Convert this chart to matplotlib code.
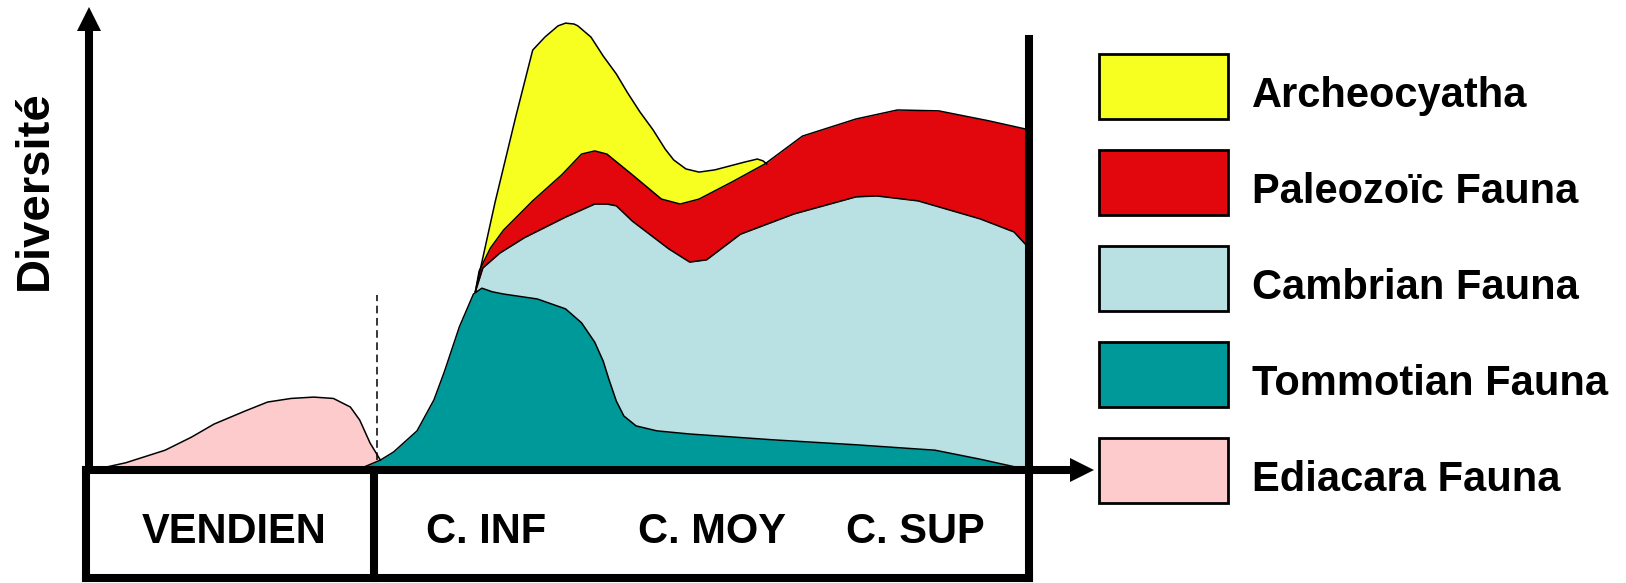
import matplotlib
matplotlib.use("Agg")
import matplotlib.pyplot as plt
from matplotlib.patches import Rectangle

plt.rcParams['font.family'] = ['Liberation Sans', 'DejaVu Sans']

# x = time (0 = start of Vendien axis, 100 = end of Cambrian), y = diversity (0-100)
ediacara_x = [0.4, 3.9, 8.1, 10.9, 13.3, 16.6, 19.0, 21.5, 23.9, 26.0, 27.8, 28.8, 29.9, 31.0]
ediacara_y = [0.0, 1.6, 4.4, 7.3, 10.2, 13.1, 15.1, 15.9, 16.2, 15.9, 14.0, 11.1, 6.0, 2.2]

tommotian_x = [27.3, 29.3, 31.0, 32.4, 34.9, 36.7, 37.8, 39.4, 40.9, 41.8, 42.9, 44.1, 47.7,
               50.7, 52.4, 53.8, 54.7, 55.3, 56.1, 56.9, 58.2, 60.4, 63.9, 72.8, 81.6, 90.0,
               94.8, 100.0]
tommotian_y = [0.0, 0.7, 2.2, 4.0, 8.7, 15.6, 21.8, 31.8, 39.1, 40.4, 39.6, 39.1, 38.0,
               35.8, 32.7, 28.4, 24.2, 20.2, 15.3, 12.0, 9.8, 8.7, 8.0, 6.7, 5.6, 4.4,
               2.4, 0.0]

cambrian_x = [41.1, 41.9, 43.7, 46.3, 50.7, 53.8, 55.1, 56.1, 57.8, 61.7, 63.9, 65.7, 69.3,
              75.0, 81.6, 83.8, 88.2, 94.8, 98.4, 100.0]
cambrian_y = [39.6, 44.9, 48.2, 51.6, 56.2, 59.1, 59.1, 58.7, 55.3, 49.1, 46.2, 46.7, 52.4,
              56.9, 60.7, 60.9, 59.8, 55.8, 52.9, 49.3]

paleozoic_x = [41.1, 41.5, 42.7, 44.1, 47.2, 50.3, 52.4, 53.8, 55.1, 57.8, 60.9, 62.9, 64.9,
               68.4, 71.9, 75.9, 81.6, 86.0, 90.4, 95.7, 100.0]
paleozoic_y = [39.6, 44.2, 49.3, 53.3, 59.8, 65.6, 70.2, 70.9, 70.2, 65.6, 60.2, 59.1, 60.2,
               64.0, 68.0, 74.2, 78.0, 80.0, 79.8, 77.6, 75.6]

archeo_x = [41.1, 43.2, 45.4, 47.2, 48.5, 49.9, 50.7, 51.6, 52.0, 53.4, 54.7, 56.1, 57.3,
            58.6, 60.0, 61.3, 62.2, 63.5, 64.9, 66.6, 69.7, 71.1, 71.7, 72.1]
archeo_y = [39.6, 59.5, 78.5, 93.3, 96.2, 98.7, 99.3, 99.1, 98.7, 96.2, 92.0, 88.0, 83.8,
            79.6, 75.6, 71.3, 68.9, 66.9, 66.2, 66.7, 68.4, 69.1, 68.7, 68.0]

periods = ['VENDIEN', 'C. INF', 'C. MOY', 'C. SUP']
period_pos = [15.4, 42.2, 66.3, 87.9]
boundaries = [-0.3, 30.3, 100.0]

labels = ['Archeocyatha', 'Paleozoïc Fauna', 'Cambrian Fauna', 'Tommotian Fauna', 'Ediacara Fauna']
colors = ['#F6FF1F', '#E1070D', '#B9E0E3', '#009999', '#FDCBCB']

fig = plt.figure(figsize=(16.26, 5.83), dpi=100)
ax = fig.add_axes([0, 0, 1, 1])
ax.set_xlim(-9.468, 163.51)
ax.set_ylim(-25.11, 104.44)
ax.axis('off')

# stacked faunas, painted back to front
series = [(archeo_x, archeo_y, colors[0]),
          (paleozoic_x, paleozoic_y, colors[1]),
          (cambrian_x, cambrian_y, colors[2]),
          (ediacara_x, ediacara_y, colors[4]),
          (tommotian_x, tommotian_y, colors[3])]
for xs, ys, c in series:
    ax.fill_between(xs, ys, 0, color=c, lw=0)
for xs, ys, c in series:
    ax.plot(xs, ys, color='black', lw=1.1, solid_joinstyle='round')

# vendien / cambrian boundary
ax.plot([30.6, 30.6], [2.2, 38.9], color='black', lw=1.1, dashes=(5, 3))

lw_axis = 5.8
# y axis with arrow
ax.plot([0, 0], [0, 98.5], color='black', lw=lw_axis, solid_capstyle='butt')
ax.plot([0], [100.3], marker='^', ms=17.3, color='black', mew=0)
# x axis with arrow
ax.plot([boundaries[0], 104.5], [0, 0], color='black', lw=lw_axis, solid_capstyle='projecting')
ax.plot([105.6], [0], marker='>', ms=17.3, color='black', mew=0)

# period box
box_bottom = -24.0
ax.plot([boundaries[0], boundaries[-1]], [box_bottom, box_bottom], color='black', lw=lw_axis,
        solid_capstyle='projecting')
for b in boundaries[:-1]:
    ax.plot([b, b], [0, box_bottom], color='black', lw=lw_axis, solid_capstyle='projecting')
ax.plot([100, 100], [box_bottom, 95.8], color='black', lw=lw_axis, solid_capstyle='projecting')

for name, xp in zip(periods, period_pos):
    ax.text(xp, -16.2, name, ha='center', va='baseline', fontsize=30, fontweight='bold')

ax.text(-5.74, 62.2, 'Diversité', rotation=90, ha='center', va='center',
        fontsize=34, fontweight='bold')

# legend
for i, (lab, c) in enumerate(zip(labels, colors)):
    top = 92.44 - 21.33 * i
    ax.add_patch(Rectangle((107.45, top - 14.44), 13.72, 14.44, facecolor=c,
                           edgecolor='black', lw=2))
    ax.text(123.7, 80.67 - 21.33 * i, lab, ha='left', va='baseline',
            fontsize=30, fontweight='bold')

fig.savefig('out.png', dpi=100)
